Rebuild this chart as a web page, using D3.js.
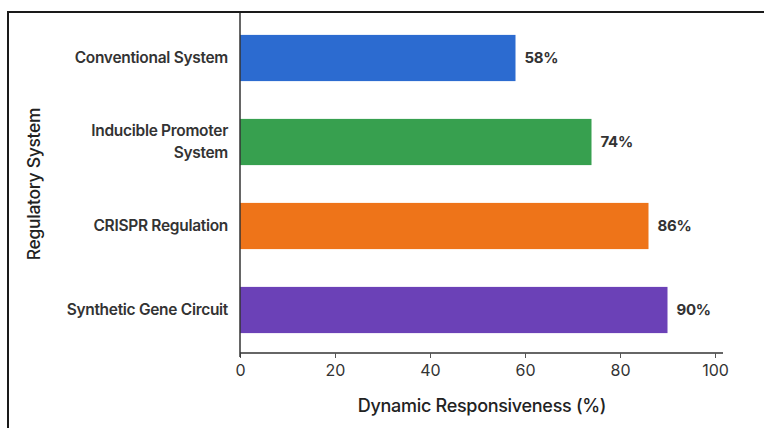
<!DOCTYPE html>
<html>
<head>
<meta charset="utf-8">
<script src="https://cdn.jsdelivr.net/npm/d3@7"></script>
<style>
  html, body { margin: 0; padding: 0; background: #fff; }
  svg { display: block; }
</style>
</head>
<body>
<svg id="chart" width="764" height="428"></svg>
<script>
// Regulatory systems and their dynamic responsiveness (%)
const categories = [
  "Conventional System",
  "Inducible Promoter System",
  "CRISPR Regulation",
  "Synthetic Gene Circuit"
];
const values = [58, 74, 86, 90];
const colors = ["#2c6bd0", "#37a04f", "#ee7419", "#6b41b7"];
const xTicks = [0, 20, 40, 60, 80, 100];
const categoryLines = {
  "Inducible Promoter System": ["Inducible Promoter", "System"]
};

const svg = d3.select("#chart");
const W = 764, H = 428;

// Outer frame
svg.append("rect")
  .attr("x", 8).attr("y", 12)
  .attr("width", W).attr("height", H)
  .attr("fill", "none")
  .attr("stroke", "#1a1a1a")
  .attr("stroke-width", 2);

const x = d3.scaleLinear().domain([0, 100]).range([240, 715]);
const y = d3.scaleBand().domain(categories).range([16, 352])
  .paddingInner(0.45).paddingOuter(0.225);

const font = "Inter, 'Open Sans', sans-serif";

// Bars
svg.append("g").selectAll("rect")
  .data(categories)
  .join("rect")
  .attr("x", x(0))
  .attr("y", d => y(d))
  .attr("width", (d, i) => x(values[i]) - x(0))
  .attr("height", y.bandwidth())
  .attr("fill", (d, i) => colors[i]);

// Value labels
svg.append("g").selectAll("text")
  .data(categories)
  .join("text")
  .attr("x", (d, i) => x(values[i]) + 9)
  .attr("y", d => y(d) + y.bandwidth() / 2)
  .attr("dy", "0.35em")
  .attr("font-family", font)
  .attr("font-weight", 700)
  .attr("font-size", 15)
  .attr("letter-spacing", -0.3)
  .attr("fill", "#333")
  .text((d, i) => values[i] + "%");

// X axis
const xAxis = svg.append("g")
  .attr("transform", "translate(0,353)")
  .call(d3.axisBottom(x).tickValues(xTicks).tickSize(5).tickPadding(7));
xAxis.select(".domain").attr("d", "M240,0H723").attr("stroke", "#333").attr("stroke-width", 1.5);
xAxis.selectAll(".tick line").attr("stroke", "#555");
xAxis.selectAll(".tick text")
  .attr("font-family", font)
  .attr("font-size", 16)
  .attr("fill", "#333");

// Y axis line
svg.append("line")
  .attr("x1", 240).attr("x2", 240)
  .attr("y1", 13).attr("y2", 357)
  .attr("stroke", "#333").attr("stroke-width", 1.5);

// Category labels
const labels = svg.append("g").selectAll("text")
  .data(categories)
  .join("text")
  .attr("text-anchor", "end")
  .attr("font-family", font)
  .attr("font-weight", 600)
  .attr("font-size", 15.5)
  .attr("letter-spacing", -0.3)
  .attr("fill", "#333");
labels.each(function(d) {
  const lines = categoryLines[d] || [d];
  const cy = y(d) + y.bandwidth() / 2;
  const lh = 22;
  const t = d3.select(this);
  lines.forEach((ln, k) => {
    t.append("tspan")
      .attr("x", 228)
      .attr("y", cy + (k - (lines.length - 1) / 2) * lh)
      .attr("dy", "0.35em")
      .text(ln);
  });
});

// Axis titles
svg.append("text")
  .attr("x", 482).attr("y", 412)
  .attr("text-anchor", "middle")
  .attr("font-family", font)
  .attr("font-size", 18)
  .attr("font-weight", 500)
  .attr("letter-spacing", -0.3)
  .attr("fill", "#222")
  .text("Dynamic Responsiveness (%)");

svg.append("text")
  .attr("transform", "translate(40,184) rotate(-90)")
  .attr("text-anchor", "middle")
  .attr("font-family", font)
  .attr("font-size", 17.5)
  .attr("font-weight", 500)
  .attr("letter-spacing", -0.3)
  .attr("fill", "#222")
  .text("Regulatory System");
</script>
</body>
</html>
